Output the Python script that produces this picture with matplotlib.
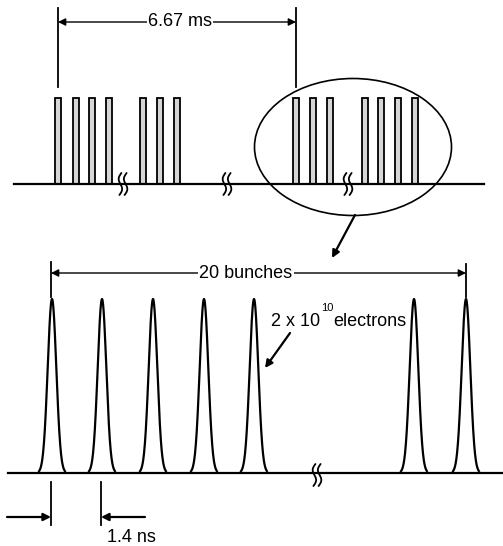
import numpy as np
import matplotlib
matplotlib.use("Agg")
import matplotlib.pyplot as plt
from matplotlib.patches import Rectangle, Ellipse

plt.rcParams["font.family"] = ["Liberation Sans", "DejaVu Sans"]

# drawing is laid out on a 503 x 546 canvas (y grows downwards)
W, H = 503, 546

# top: bunch trains (left edges of each train marker), break marks
train_x = [55, 73, 89, 106, 140, 157, 174, 293, 310, 327, 362, 378, 395, 412]
train_top, top_base = 98, 184
top_breaks = [123, 227, 348]
period_label = "6.67 ms"
period_span = (58, 296)

# bottom: individual bunches of one train
bunch_x = [52, 102, 153, 204, 254, 414, 466]
bunch_top, bot_base = 299, 473
bunch_sigma = 4.3
bot_breaks = [317]
train_label = "20 bunches"
train_span = (51, 466)
spacing_label = "1.4 ns"
spacing_span = (51, 101)

LW = 1.6


def arrow(ax, start, end, style="-|>", lw=1.2):
    ax.annotate("", xy=end, xytext=start,
                arrowprops=dict(arrowstyle=style, color="k", lw=lw,
                                mutation_scale=11, shrinkA=0, shrinkB=0))


def break_mark(ax, xc, yc):
    t = np.linspace(-1, 1, 40)
    for dx in (-2.6, 2.6):
        ax.plot(xc + dx + 2.2 * np.sin(np.pi * t) - 1.0 * t, yc + 11 * t,
                color="k", lw=1.3, solid_capstyle="round")


def main() -> None:
    fig = plt.figure(figsize=(W / 100, H / 100), dpi=100)
    ax = fig.add_axes([0, 0, 1, 1])
    ax.set_xlim(0, W)
    ax.set_ylim(H, 0)
    ax.axis("off")

    # ---- top: trains
    ax.plot([14, 484], [top_base, top_base], color="k", lw=LW)
    for x in train_x:
        ax.add_patch(Rectangle((x, train_top), 6.5, top_base - train_top,
                               facecolor="#d6d6d6", edgecolor="k", lw=1.3))
    for x in top_breaks:
        break_mark(ax, x, top_base)

    for x in period_span:
        ax.plot([x, x], [8, 87], color="k", lw=1.3)
    arrow(ax, (period_span[0], 22), (period_span[1], 22), style="<|-|>", lw=1.0)
    ax.text(180, 22, period_label, fontsize=13, ha="center", va="center",
            bbox=dict(facecolor="white", edgecolor="none", pad=1.0))

    ax.add_patch(Ellipse((353, 147), 197, 137, fill=False, edgecolor="k", lw=1.2))
    arrow(ax, (355, 215), (332, 258), lw=1.6)

    # ---- bottom: bunches
    ax.plot([8, W], [bot_base, bot_base], color="k", lw=LW)
    xs = np.linspace(0, W, 3000)
    for xc in bunch_x:
        seg = np.abs(xs - xc) <= 13
        prof = np.exp(-0.5 * ((xs[seg] - xc) / bunch_sigma) ** 2)
        ax.plot(xs[seg], bot_base - (bot_base - bunch_top) * prof, color="k", lw=LW)
    for x in bot_breaks:
        break_mark(ax, x, bot_base + 2)

    ax.plot([train_span[0]] * 2, [262, 297], color="k", lw=1.3)
    ax.plot([train_span[1]] * 2, [264, 297], color="k", lw=1.3)
    arrow(ax, (train_span[0], 273), (train_span[1], 273), style="<|-|>", lw=1.0)
    ax.text(246, 274, train_label, fontsize=13, ha="center", va="center",
            bbox=dict(facecolor="white", edgecolor="none", pad=1.0))

    ax.text(320, 321, "2 x 10", fontsize=13, ha="right", va="center")
    ax.text(321, 308, "10", fontsize=8, ha="left", va="center")
    ax.text(333, 321, "electrons", fontsize=13, ha="left", va="center")
    arrow(ax, (290, 333), (265, 368), lw=1.6)

    for x in spacing_span:
        ax.plot([x, x], [482, 525], color="k", lw=1.3)
    arrow(ax, (7, 517), (spacing_span[0], 517), lw=1.6)
    arrow(ax, (145, 517), (spacing_span[1], 517), lw=1.6)
    ax.text(131, 537, spacing_label, fontsize=13, ha="center", va="center")

    fig.savefig("out.png", dpi=100)
    plt.close(fig)


if __name__ == "__main__":
    main()
